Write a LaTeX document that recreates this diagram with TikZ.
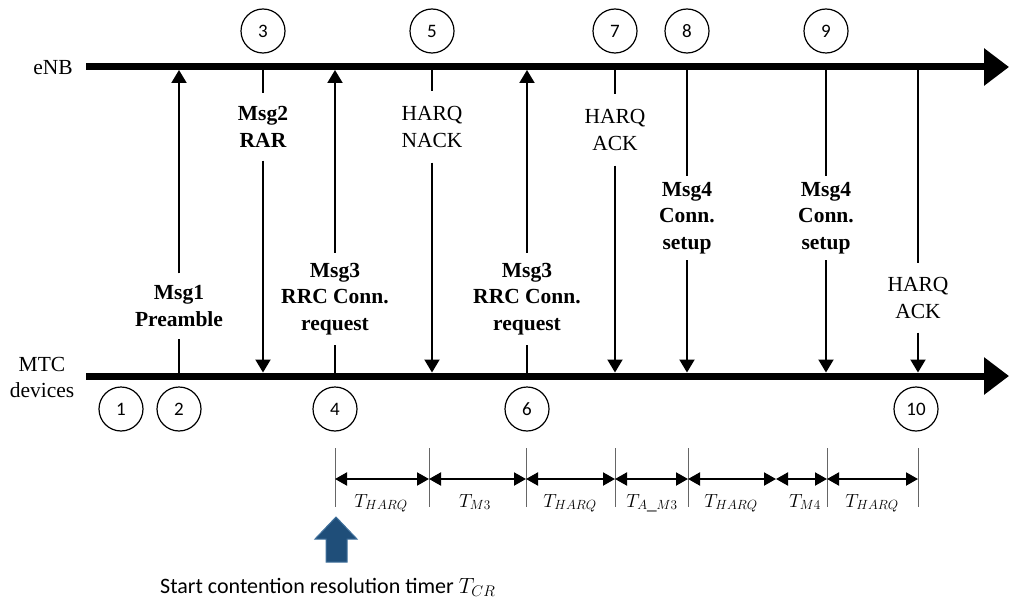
\RequirePackage{fix-cm}
\documentclass[tikz,border=0pt]{standalone}
\usepackage{fontspec}
\setmainfont{Liberation Serif}
\newfontfamily\timesf{Liberation Serif}
\newfontfamily\calibri{Carlito}
\usetikzlibrary{arrows.meta}
\definecolor{arrowblue}{RGB}{31,78,121}
\definecolor{arrowedge}{RGB}{65,113,156}
\begin{document}
\begin{tikzpicture}[x=1pt,y=-1pt,
  timeline/.style={line width=7pt,-{Triangle[length=25pt,width=36pt]}},
  msg/.style={line width=2pt},
  tip/.style={-{Triangle[length=13pt,width=15pt]}},
  lbl/.style={align=center,inner xsep=0pt,inner ysep=12pt,font=\timesf\fontsize{21.5}{26.5}\selectfont},
  blbl/.style={lbl,font=\timesf\fontsize{21.5}{26.5}\selectfont\bfseries},
  num/.style={circle,draw,line width=1.2pt,minimum size=44pt,inner sep=0pt,font=\calibri\fontsize{19}{19}\selectfont},
  tickline/.style={draw=black!60,line width=1pt},
  span/.style={line width=2pt,{Triangle[length=12pt,width=13pt]}-{Triangle[length=12pt,width=13pt]}},
  tlab/.style={font=\timesf\fontsize{19}{19}\selectfont,inner sep=0pt,anchor=base}
]
\useasboundingbox (0,0) rectangle (1009,599);

% time lines
\coordinate (eS) at (86,67);  \coordinate (eE) at (1009,67);
\coordinate (mS) at (86,376); \coordinate (mE) at (1009,376);
\draw[timeline] (eS) -- (eE);
\draw[timeline] (mS) -- (mE);
\node[anchor=base east,inner sep=0pt,font=\timesf\fontsize{21.5}{26.5}\selectfont] (enb) at (73,75) {eNB};
\node[align=center,inner sep=0pt,font=\timesf\fontsize{21.5}{26}\selectfont] (mtc) at (42,377.5) {MTC\\devices};

% circled numbers
\node[num] (n1) at (121,409) {1};
\node[num] (n2) at (179,409) {2};
\node[num] (n3) at (263,31) {3};
\node[num] (n4) at (335,409) {4};
\node[num] (n5) at (432,31) {5};
\node[num] (n6) at (527,409) {6};
\node[num] (n7) at (615,31) {7};
\node[num] (n8) at (687,31) {8};
\node[num] (n9) at (826,31) {9};
\node[num] (n10) at (916,409) {10};

% Msg1 (up)
\coordinate (E1) at (179,70); \coordinate (M1) at (179,376);
\node[blbl] (L1) at (179,306) {Msg1\\Preamble};
\draw[msg] (M1) -- (L1.south);
\draw[msg,tip] (L1.north) -- (E1);

% Msg2 (down)
\coordinate (E2) at (263,67); \coordinate (M2) at (263,372.5);
\node[blbl,inner ysep=13pt] (L2) at (263,127) {Msg2\\RAR};
\draw[msg] (E2) -- (L2.north);
\draw[msg,tip] (L2.south) -- (M2);

% Msg3 (up)
\coordinate (E3) at (335,70); \coordinate (M3) at (335,376);
\node[blbl,inner ysep=10pt] (L3) at (335,299) {Msg3\\RRC Conn.\\request};
\draw[msg] (M3) -- (L3.south);
\draw[msg,tip] (L3.north) -- (E3);

% HARQ NACK (down)
\coordinate (E4) at (432,67); \coordinate (M4) at (432,372.5);
\node[lbl,inner ysep=15pt] (L4) at (432,127) {HARQ\\NACK};
\draw[msg] (E4) -- (L4.north);
\draw[msg,tip] (L4.south) -- (M4);

% Msg3 retransmission (up)
\coordinate (E5) at (527,70); \coordinate (M5) at (527,376);
\node[blbl,inner ysep=10pt] (L5) at (527,299) {Msg3\\RRC Conn.\\request};
\draw[msg] (M5) -- (L5.south);
\draw[msg,tip] (L5.north) -- (E5);

% HARQ ACK (down)
\coordinate (E6) at (615,67); \coordinate (M6) at (615,372.5);
\node[lbl,inner ysep=15pt] (L6) at (615,130) {HARQ\\ACK};
\draw[msg] (E6) -- (L6.north);
\draw[msg,tip] (L6.south) -- (M6);

% Msg4 (down)
\coordinate (E7) at (687,67); \coordinate (M7) at (687,372.5);
\node[blbl,inner ysep=6pt] (L7) at (687,218) {Msg4\\Conn.\\setup};
\draw[msg] (E7) -- (L7.north);
\draw[msg,tip] (L7.south) -- (M7);

% Msg4 again (down)
\coordinate (E8) at (826,67); \coordinate (M8) at (826,372.5);
\node[blbl,inner ysep=6pt] (L8) at (826,218) {Msg4\\Conn.\\setup};
\draw[msg] (E8) -- (L8.north);
\draw[msg,tip] (L8.south) -- (M8);

% HARQ ACK (down)
\coordinate (E9) at (918,67); \coordinate (M9) at (918,372.5);
\node[lbl,inner ysep=14pt] (L9) at (918,298) {HARQ\\ACK};
\draw[msg] (E9) -- (L9.north);
\draw[msg,tip] (L9.south) -- (M9);

% timing
\foreach \i/\x in {1/335,2/429,3/526,4/615,5/688,7/827,8/918}{
  \coordinate (ka\i) at (\x,448);
  \coordinate (kb\i) at (\x,507);
  \draw[tickline] (ka\i) -- (kb\i);
}
\foreach \i/\x in {1/335,2/429,3/526,4/615,5/688,6/776,7/827,8/918}{
  \coordinate (k\i) at (\x,479);
}
\draw[span] (k1) -- (k2);
\draw[span] (k2) -- (k3);
\draw[span] (k3) -- (k4);
\draw[span] (k4) -- (k5);
\draw[span] (k5) -- (k6);
\draw[span] (k6) -- (k7);
\draw[span] (k7) -- (k8);
\node[tlab] (d1) at (381,507) {$T_{HARQ}$};
\node[tlab] (d2) at (475,507) {$T_{M3}$};
\node[tlab] (d3) at (570,507) {$T_{HARQ}$};
\node[tlab] (d4) at (652,507) {$T_{A\_M3}$};
\node[tlab] (d5) at (731,507) {$T_{HARQ}$};
\node[tlab] (d6) at (805,507) {$T_{M4}$};
\node[tlab] (d7) at (872,507) {$T_{HARQ}$};

% start arrow
\filldraw[fill=arrowblue,draw=arrowedge,line width=1pt]
  (326,562) -- (326,539) -- (315,539) -- (336,517) -- (357,539) -- (347,539) -- (347,562) -- cycle;
\node[anchor=base west,inner sep=0pt,font=\calibri\fontsize{22}{22}\selectfont] (cr) at (160,593)
  {Start contention resolution timer $T_{CR}$};
\end{tikzpicture}
\end{document}
